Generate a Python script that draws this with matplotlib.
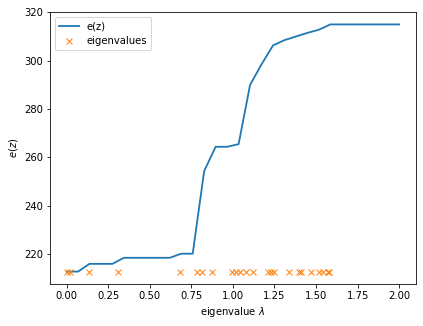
import numpy as np
import matplotlib
matplotlib.use("Agg")
import matplotlib.pyplot as plt

# grid of z values (30 samples from 0 to 2)
z_values = np.linspace(0, 2, 30)
e_values = [212.8, 212.8, 216.0, 216.0, 216.0, 218.5, 218.5, 218.5, 218.5, 218.5,
            220.2, 220.2, 254.4, 264.4, 264.4, 265.5, 290.0, 298.5, 306.3, 308.5,
            310.0, 311.5, 312.8, 315.0, 315.0, 315.0, 315.0, 315.0, 315.0, 315.0]

eigenvalues = [0.0, 0.02, 0.136, 0.31, 0.68, 0.783, 0.813, 0.873, 0.996, 1.02,
               1.04, 1.08, 1.12, 1.21, 1.23, 1.245, 1.34, 1.40, 1.41, 1.47,
               1.52, 1.54, 1.57, 1.58]

dpi = 72
fig = plt.figure(figsize=(423.01 / dpi, 326.01 / dpi), dpi=dpi)
ax = fig.add_subplot(111)
fig.subplots_adjust(left=0.118, right=0.983, top=0.963, bottom=0.129)

ax.plot(z_values, e_values, label="e(z)", lw=1.8)
ax.plot(eigenvalues, np.full(len(eigenvalues), min(e_values)), "x",
        label="eigenvalues")
ax.set_xlabel(r"eigenvalue $\lambda$")
ax.set_ylabel(r"$e(z)$")
ax.legend(loc="upper left")

fig.savefig("out.png", dpi=dpi)
